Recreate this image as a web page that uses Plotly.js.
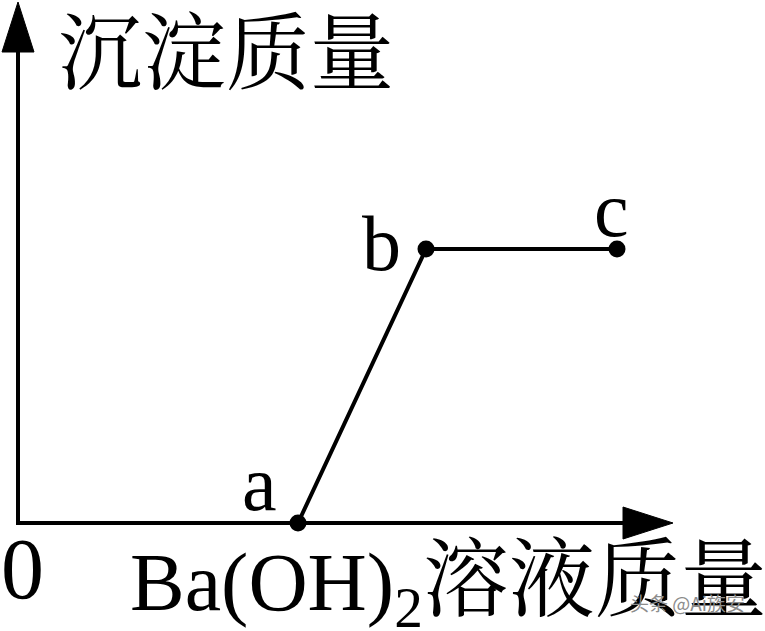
<!DOCTYPE html>
<html>
<head>
<meta charset="utf-8">
<script src="https://cdn.plot.ly/plotly-3.0.1.min.js"></script>
<style>
  html, body { margin: 0; padding: 0; background: #fff; }
  #chart { width: 765px; height: 631px; }
</style>
</head>
<body>
<div id="chart"></div>
<script>
// points (1 unit ~ 100 px)
var pointNames = ['a', 'b', 'c'];
var baohMass = [2.80, 4.08, 5.99];
var precipMass = [0, 2.74, 2.74];

var yTitle = '沉淀质量';
var xFormula = 'Ba(OH)<sub>2</sub>';
var xWords = '溶液质量';
var originLabel = '0';
var watermark = '头条 @Ai族安';

var W = 765, H = 631;
var xEnd = 6.55, yEnd = 5.21;   // arrow tips
var headLen = 0.5, headHalf = 0.16;

var serif = '"Liberation Serif", "Times New Roman", serif';
var cjk = '"Noto Serif CJK SC", "Noto Sans CJK SC", serif';

function px(x) { return x / W; }
function py(y) { return 1 - y / H; }

var trace = {
    x: baohMass,
    y: precipMass,
    mode: 'lines+markers',
    line: { color: '#000', width: 4 },
    marker: { color: '#000', size: 17 },
    hoverinfo: 'skip'
};

// label offsets (px) for a, b, c
var labelShift = [[-39, 40], [-45, 6], [-6, 40]];
var annotations = pointNames.map(function (n, i) {
    return {
        x: baohMass[i], y: precipMass[i], xref: 'x', yref: 'y',
        text: n, showarrow: false,
        xshift: labelShift[i][0], yshift: labelShift[i][1],
        xanchor: 'center', yanchor: 'middle',
        font: { family: serif, size: 78, color: '#000' }
    };
});

annotations.push({
    x: px(56), y: py(46), xref: 'paper', yref: 'paper',
    text: yTitle, showarrow: false, xanchor: 'left', yanchor: 'middle',
    font: { family: cjk, size: 84, color: '#000' }
});
annotations.push({
    x: px(22), y: py(569), xref: 'paper', yref: 'paper',
    text: originLabel, showarrow: false, xanchor: 'center', yanchor: 'middle',
    font: { family: serif, size: 86, color: '#000' }
});
annotations.push({
    x: px(128), y: py(575), xref: 'paper', yref: 'paper',
    text: '<span style="font-family:' + serif.replace(/"/g, "'") + ';font-size:82px">' + xFormula + '</span>' + xWords,
    showarrow: false, xanchor: 'left', yanchor: 'middle',
    font: { family: cjk, size: 86, color: '#000' }
});
annotations.push({
    x: px(747), y: py(602), xref: 'paper', yref: 'paper',
    text: watermark, showarrow: false, xanchor: 'right', yanchor: 'middle',
    font: { family: '"Noto Sans CJK SC", sans-serif', size: 19, color: '#8c8c8c' }
});

var shapes = [
    { type: 'line', xref: 'x', yref: 'y', x0: -0.02, y0: 0, x1: xEnd - headLen + 0.05, y1: 0,
      line: { color: '#000', width: 4 } },
    { type: 'line', xref: 'x', yref: 'y', x0: 0, y0: -0.02, x1: 0, y1: yEnd - headLen + 0.05,
      line: { color: '#000', width: 4 } },
    { type: 'path', xref: 'x', yref: 'y',
      path: 'M ' + xEnd + ' 0 L ' + (xEnd - headLen) + ' ' + headHalf + ' L ' + (xEnd - headLen) + ' ' + (-headHalf) + ' Z',
      fillcolor: '#000', line: { color: '#000', width: 1 } },
    { type: 'path', xref: 'x', yref: 'y',
      path: 'M 0 ' + yEnd + ' L ' + headHalf + ' ' + (yEnd - headLen) + ' L ' + (-headHalf) + ' ' + (yEnd - headLen) + ' Z',
      fillcolor: '#000', line: { color: '#000', width: 1 } }
];

var layout = {
    width: W, height: H,
    margin: { l: 0, r: 0, t: 0, b: 0 },
    paper_bgcolor: '#fff', plot_bgcolor: '#fff',
    showlegend: false,
    xaxis: { range: [-0.18, 7.47], visible: false, fixedrange: true },
    yaxis: { range: [-1.08, 5.23], visible: false, fixedrange: true },
    shapes: shapes,
    annotations: annotations
};

Plotly.newPlot('chart', [trace], layout, { displayModeBar: false, staticPlot: true });
</script>
</body>
</html>
